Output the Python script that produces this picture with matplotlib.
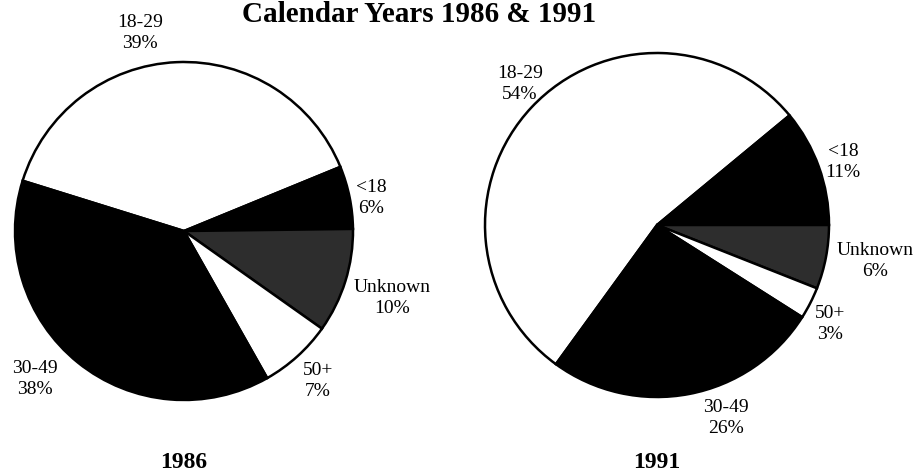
import matplotlib
matplotlib.use("Agg")
import matplotlib.pyplot as plt

# age groups, in the order the wedges run clockwise
groups = ["18-29", "<18", "Unknown", "50+", "30-49"]
share_1986 = [39, 6, 10, 7, 38]
share_1991 = [54, 11, 6, 3, 26]
years = ["1986", "1991"]
title = "Calendar Years 1986 & 1991"

# styling / layout (kept apart from the data)
colors = ["white", "black", "#2d2d2d", "white", "black"]
W, H = 915, 475
# label centres in pixels (x, y measured from the top)
pos_1986 = [(140, 33), (371, 198), (392, 298), (318, 381), (35, 379)]
pos_1991 = [(520, 84), (843, 162), (875, 261), (830, 324), (726, 418)]

plt.rcParams["font.family"] = ["Liberation Serif", "DejaVu Serif"]
fig = plt.figure(figsize=(W / 100, H / 100), dpi=100)


def draw_pie(cx, cy, r, values, start, label_pos, year):
    half = r * 1.02
    ax = fig.add_axes([(cx - half) / W, (H - cy - half) / H,
                       2 * half / W, 2 * half / H])
    ax.pie(values, colors=colors, startangle=start, counterclock=False,
           radius=1, wedgeprops=dict(edgecolor="black", linewidth=1.8))
    ax.set_xlim(-1.02, 1.02)
    ax.set_ylim(-1.02, 1.02)
    ax.set_aspect("equal")
    ax.axis("off")
    for g, v, (x, y) in zip(groups, values, label_pos):
        fig.text(x / W, 1 - y / H, f"{g}\n{v}%", ha="center", va="center",
                 fontsize=14, linespacing=1.25)
    fig.text(cx / W, 1 - 468 / H, year, ha="center", va="baseline",
             fontsize=17, fontweight="bold")


draw_pie(184, 231, 169, share_1986, 162.7, pos_1986, years[0])
draw_pie(657, 225, 172, share_1991, 234.0, pos_1991, years[1])

fig.text(419 / W, 1 - 22 / H, title, ha="center", va="baseline",
         fontsize=21, fontweight="bold")

fig.savefig("out.png", dpi=100)
